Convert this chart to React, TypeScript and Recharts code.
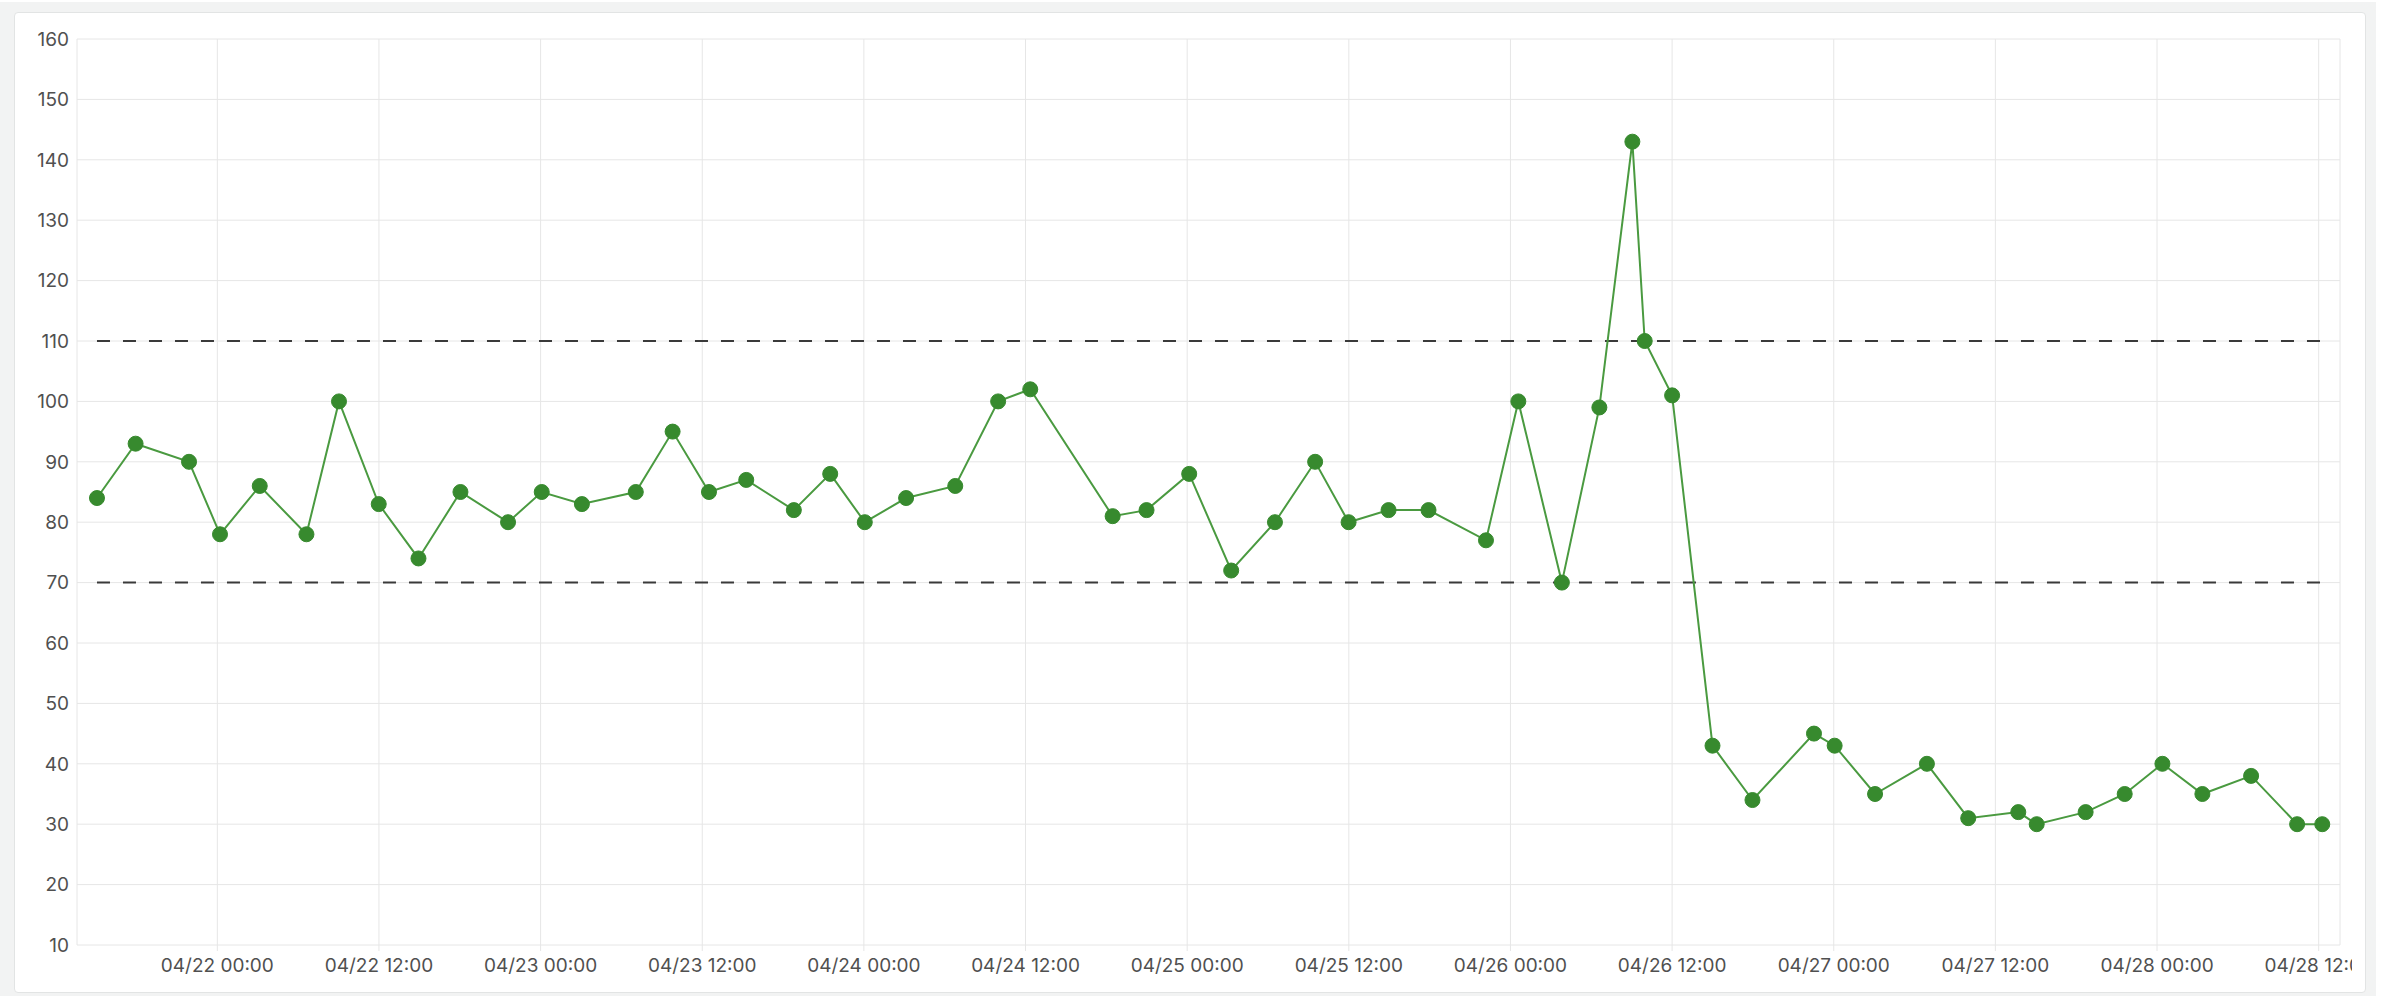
import React from "react";
import {
  CartesianGrid,
  Line,
  LineChart,
  ReferenceLine,
  XAxis,
  YAxis,
} from "recharts";

// sample times (UTC) and readings
const times = [
  "2024-04-21T15:04", "2024-04-21T17:56", "2024-04-21T21:54", "2024-04-22T00:12",
  "2024-04-22T03:09", "2024-04-22T06:37", "2024-04-22T09:02", "2024-04-22T11:59",
  "2024-04-22T14:56", "2024-04-22T18:03", "2024-04-22T21:35", "2024-04-23T00:05",
  "2024-04-23T03:04", "2024-04-23T07:04", "2024-04-23T09:48", "2024-04-23T12:30",
  "2024-04-23T15:16", "2024-04-23T18:48", "2024-04-23T21:30", "2024-04-24T00:04",
  "2024-04-24T03:08", "2024-04-24T06:47", "2024-04-24T09:58", "2024-04-24T12:21",
  "2024-04-24T18:28", "2024-04-24T20:59", "2024-04-25T00:09", "2024-04-25T03:16",
  "2024-04-25T06:31", "2024-04-25T09:30", "2024-04-25T11:59", "2024-04-25T14:57",
  "2024-04-25T17:55", "2024-04-25T22:11", "2024-04-26T00:35", "2024-04-26T03:49",
  "2024-04-26T06:36", "2024-04-26T09:03", "2024-04-26T09:58", "2024-04-26T12:00",
  "2024-04-26T15:00", "2024-04-26T17:58", "2024-04-26T22:32", "2024-04-27T00:04",
  "2024-04-27T03:04", "2024-04-27T06:55", "2024-04-27T09:59", "2024-04-27T13:42",
  "2024-04-27T15:04", "2024-04-27T18:42", "2024-04-27T21:36", "2024-04-28T00:24",
  "2024-04-28T03:22", "2024-04-28T06:59", "2024-04-28T10:24", "2024-04-28T12:16",
];

const values = [
  84, 93, 90, 78, 86, 78, 100, 83, 74, 85, 80, 85,
  83, 85, 95, 85, 87, 82, 88, 80, 84, 86, 100, 102,
  81, 82, 88, 72, 80, 90, 80, 82, 82, 77, 100, 70,
  99, 143, 110, 101, 43, 34, 45, 43, 35, 40, 31, 32,
  30, 32, 35, 40, 35, 38, 30, 30,
];

const xTicks = [
  "2024-04-22T00:00", "2024-04-22T12:00", "2024-04-23T00:00", "2024-04-23T12:00",
  "2024-04-24T00:00", "2024-04-24T12:00", "2024-04-25T00:00", "2024-04-25T12:00",
  "2024-04-26T00:00", "2024-04-26T12:00", "2024-04-27T00:00", "2024-04-27T12:00",
  "2024-04-28T00:00", "2024-04-28T12:00",
];

const yTicks = [10, 20, 30, 40, 50, 60, 70, 80, 90, 100, 110, 120, 130, 140, 150, 160];

const xRange = ["2024-04-21T13:35", "2024-04-28T13:35"];
const upperLimit = 110;
const lowerLimit = 70;

const toMs = (s: string) => Date.parse(s + ":00Z");

const data = times.map((t, i) => ({ time: toMs(t), value: values[i] }));
const firstT = data[0].time;
const lastT = data[data.length - 1].time;

const fmt = (ms: number) => {
  const s = new Date(ms).toISOString();
  return `${s.slice(5, 7)}/${s.slice(8, 10)} ${s.slice(11, 16)}`;
};

const tickStyle = { fill: "#505050", fontSize: 19, fontFamily: "Inter, 'Noto Sans', sans-serif" };

export default function App() {
  return (
    <div style={{ position: "absolute", left: 0, top: 0, width: 2386, height: 996, background: "#fff" }}>
      <div
        style={{
          position: "absolute",
          left: 0,
          top: 2,
          width: 2376,
          height: 994,
          background: "#f2f3f3",
        }}
      />
      <div
        style={{
          position: "absolute",
          left: 14,
          top: 12,
          width: 2350,
          height: 979,
          background: "#fff",
          border: "1px solid #e2e4e4",
          borderRadius: 4,
        }}
      />
      <div style={{ position: "absolute", left: 14, top: 12, width: 2338, height: 981, overflow: "hidden" }}>
        <LineChart
          width={2338}
          height={981}
          data={data}
          margin={{ top: 27, right: 12, bottom: 8, left: 0 }}
        >
          <CartesianGrid stroke="#e6e6e6" strokeWidth={1} />
          <XAxis
            dataKey="time"
            type="number"
            scale="time"
            domain={xRange.map(toMs)}
            ticks={xTicks.map(toMs)}
            interval={0}
            tickFormatter={fmt}
            axisLine={false}
            tickLine={{ stroke: "#e6e6e6" }}
            tickSize={6}
            tickMargin={8}
            height={40}
            tick={tickStyle}
          />
          <YAxis
            type="number"
            domain={[10, 160]}
            ticks={yTicks}
            interval={0}
            axisLine={false}
            tickLine={false}
            tickSize={6}
            tickMargin={2}
            width={63}
            tick={tickStyle}
          />
          <ReferenceLine
            segment={[
              { x: firstT, y: upperLimit },
              { x: lastT, y: upperLimit },
            ]}
            stroke="#3a3a3a"
            strokeWidth={2}
            strokeDasharray="13 13"
          />
          <ReferenceLine
            segment={[
              { x: firstT, y: lowerLimit },
              { x: lastT, y: lowerLimit },
            ]}
            stroke="#3a3a3a"
            strokeWidth={2}
            strokeDasharray="13 13"
          />
          <Line
            type="linear"
            dataKey="value"
            stroke="#4a9a40"
            strokeWidth={2}
            dot={{ r: 7.5, fill: "#378a2e", stroke: "#378a2e", strokeWidth: 1 }}
            activeDot={false}
            isAnimationActive={false}
          />
        </LineChart>
      </div>
    </div>
  );
}
